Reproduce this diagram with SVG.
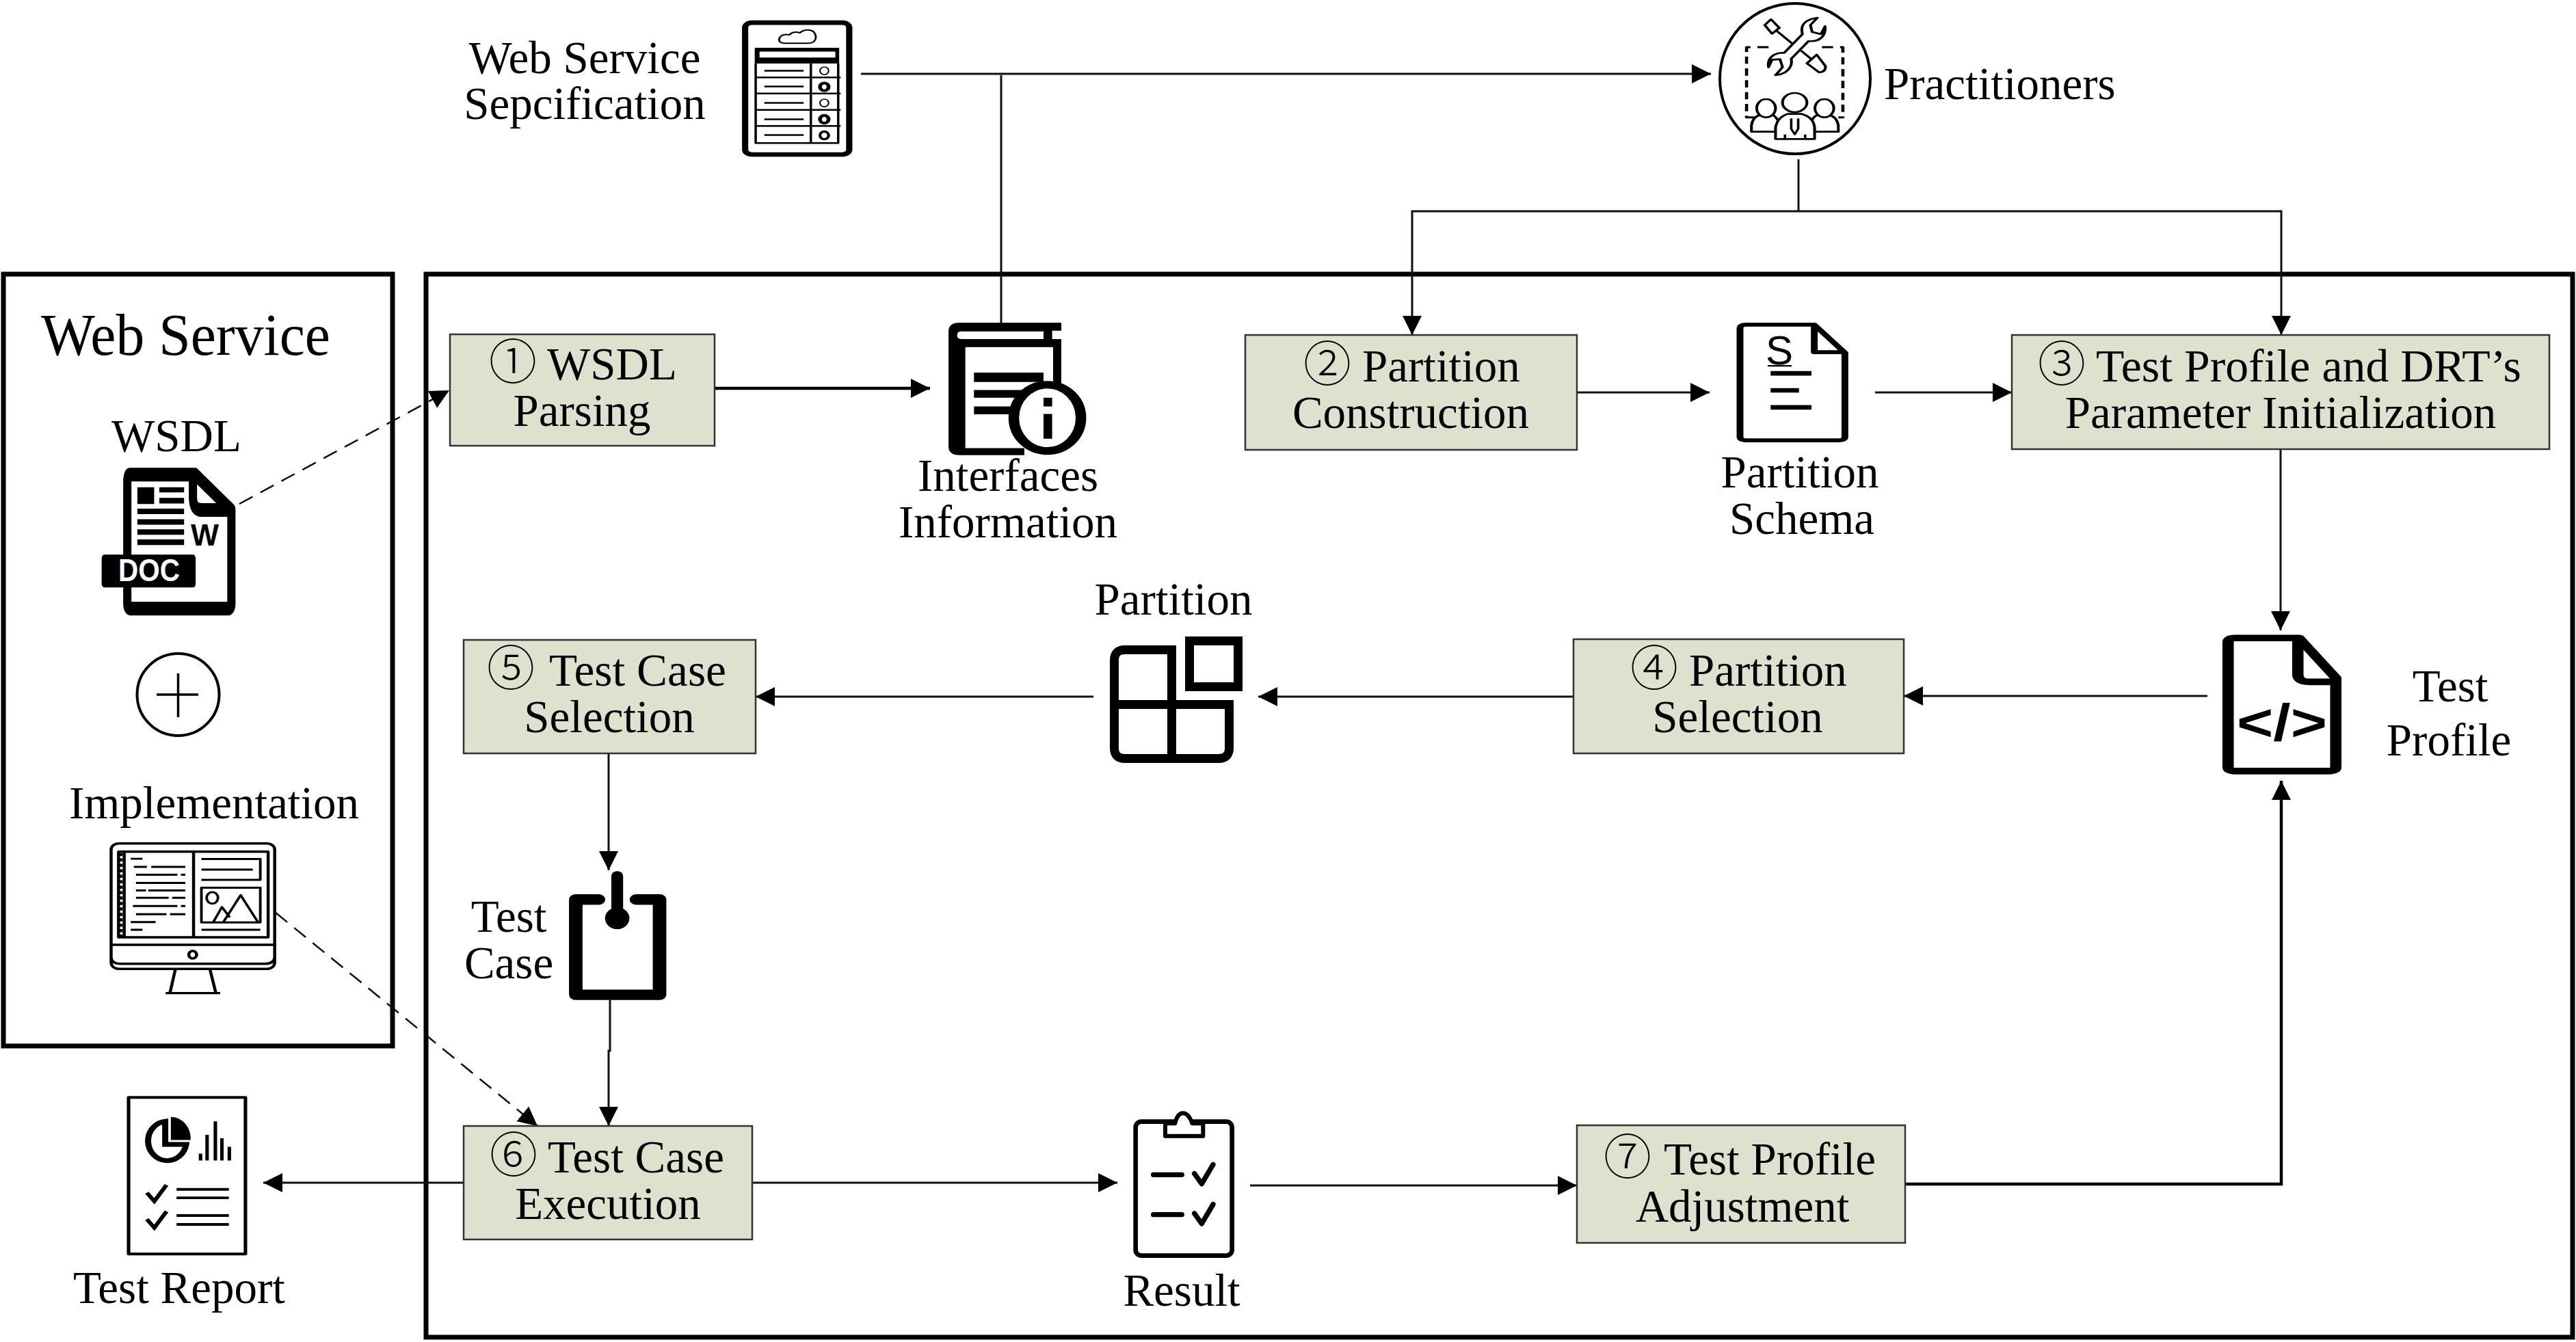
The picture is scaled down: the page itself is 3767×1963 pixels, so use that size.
<svg xmlns="http://www.w3.org/2000/svg" width="3767" height="1963" viewBox="0 0 3767 1963">
<style>
text{font-family:"Liberation Serif","Times New Roman",serif;font-size:67px;fill:#000}
.m{text-anchor:middle}
.d{font-family:"Noto Sans CJK SC","DejaVu Sans",sans-serif;font-size:70px;font-weight:300}
.box{fill:#dde2ce;stroke:#333;stroke-width:2.5}
.frame{fill:none;stroke:#000;stroke-width:7}
.c{fill:none;stroke:#111;stroke-width:3}
.c2{fill:none;stroke:#000;stroke-width:4.5}
.ds{stroke-dasharray:22 13;stroke-width:2.5}
.a{marker-end:url(#ah)}
.k{fill:#000}
.w{fill:#fff}
.s{fill:none;stroke:#000;stroke-linejoin:round}
.sw{fill:#fff;stroke:#000;stroke-linejoin:round}
</style>
<defs>
<marker id="ah" markerUnits="userSpaceOnUse" markerWidth="30" markerHeight="30" refX="28" refY="15" orient="auto"><path d="M0 1L28 15L0 29Z" fill="#000"/></marker>
</defs>
<rect width="3767" height="1963" fill="#fff"/>
<g id="frames">
<rect class="frame" x="5" y="401" width="569" height="1129"/>
<rect class="frame" x="623" y="401" width="3139" height="1555"/>
</g>
<g id="connectors">
<path class="c" d="M1259 108H2502" marker-end="url(#ah)"/>
<path class="c" d="M1464 110V472"/>
<path class="c" d="M2630 233V309"/>
<path class="c a" d="M2630 309H2065V490"/>
<path class="c a" d="M2630 309H3336V490"/>
<path class="c2 a" d="M1045 568H1360"/>
<path class="c a" d="M2306 574H2500"/>
<path class="c a" d="M2742 574H2942"/>
<path class="c a" d="M3335 657V922"/>
<path class="c a" d="M3228 1018H2784"/>
<path class="c a" d="M2301 1019H1840"/>
<path class="c a" d="M1599 1019H1105"/>
<path class="c a" d="M890 1102V1273"/>
<path class="c a" d="M892 1463V1537H890V1647"/>
<path class="c a" d="M678 1730H385"/>
<path class="c a" d="M1100 1730H1634"/>
<path class="c a" d="M1828 1734H2306"/>
<path class="c2 a" d="M2786 1732H3336V1142"/>
<path class="c ds a" d="M350 737L657 571"/>
<path class="c ds a" d="M403 1335L786 1647"/>
</g>
<g id="web-service-label"><text x="60" y="519" style="font-size:86px" textLength="423" lengthAdjust="spacingAndGlyphs">Web Service</text></g>
<g id="wsdl">
<text class="m" x="258" y="660">WSDL</text>
<g transform="scale(.4464 .7396) translate(0 513.8)">
<path class="s" d="M640 425H425Q417 425 417 440V680Q417 690 430 690H745Q758 690 758 680V495Z" style="stroke-width:27"/>
<path class="s" d="M632 425V470Q632 495 660 495H758" style="stroke-width:27"/>
<path class="k" d="M450 450H505V483H450ZM522 450H603V460H522ZM522 471H603V482H522ZM450 492H603V503H450ZM450 513H603V524H450ZM450 533H603V544H450ZM450 553H603V564H450Z"/>
<rect class="k" x="333" y="583" width="308" height="65" rx="8"/>
</g>
<text x="279" y="798" textLength="41" lengthAdjust="spacingAndGlyphs" style="font-family:'Liberation Sans',sans-serif;font-weight:700;font-size:44px">W</text>
<text x="173" y="850" textLength="90" lengthAdjust="spacingAndGlyphs" style="font-family:'Liberation Sans',sans-serif;font-weight:700;font-size:46px;fill:#fff">DOC</text>
</g>
<g id="plus">
<circle cx="260.5" cy="1016" r="60" fill="#fff" stroke="#000" stroke-width="4"/>
<path d="M229 1016H290M260.5 985V1049" stroke="#000" stroke-width="3.5"/>
</g>
<g id="implementation">
<text class="m" x="313" y="1197">Implementation</text>
<g transform="translate(100 1180) scale(.6378 .4975)">
<rect class="s" x="98" y="108" width="375" height="369" rx="18" style="stroke-width:7"/>
<rect class="s" x="115" y="132" width="343" height="252" style="stroke-width:7"/>
<path class="s" style="stroke-width:7" d="M98 406H473M98 445Q100 462 120 462H450Q470 462 473 445M287 132V384M128 132V384"/>
<path class="s" style="stroke-width:7;stroke-dasharray:9 7" d="M121 136V384"/>
<ellipse class="s" cx="285" cy="435" rx="9" ry="11" style="stroke-width:7"/>
<path class="s" style="stroke-width:7" d="M245 480L233 547M325 480L338 547M223 548H348"/>
<path class="s" style="stroke-width:6" d="M143 153H170M150 177H180M190 177H268M155 200H250M258 200H268M155 224H268M155 246H178M183 246H268M155 268H230M238 268H268M148 292H250M258 292H268M155 316H225M233 316H268M143 339H200M143 362H170"/>
<path class="s" style="stroke-width:6" d="M305 154H440V215H305M305 185H423"/>
<rect class="s" x="305" y="238" width="135" height="102" style="stroke-width:6"/>
<ellipse class="s" cx="330" cy="268" rx="13" ry="17" style="stroke-width:6"/>
<path class="s" style="stroke-width:6" d="M332 340L352 295L370 325M355 340L395 260L435 340M305 362H440"/>
</g>
</g>
<g id="web-service-spec">
<text class="m" x="855" y="107">Web Service</text>
<text class="m" x="855" y="174">Sepcification</text>
<g transform="translate(600 0) scale(.7015 .5102)">
<rect class="s" x="698" y="65" width="217" height="378" rx="14" style="stroke-width:13"/>
<path class="s" style="stroke-width:4" d="M780 124Q765 122 770 108Q776 96 790 100Q798 88 812 94Q825 80 840 90Q850 105 842 118Q838 124 828 124Z"/>
<rect class="k" x="718" y="137" width="176" height="45"/>
<rect class="w" x="728" y="148" width="158" height="17"/>
<path class="s" style="stroke-width:5" d="M720 182V410H892V182M720 222H897M720 268H897M720 315H897M720 361H897M835 182V410"/>
<path class="s" style="stroke-width:5" d="M738 203H820M738 248H820M738 295H820M738 342H820M738 387H820"/>
<g class="s"><ellipse cx="863" cy="203" rx="9" ry="11" style="stroke-width:3"/><ellipse cx="863" cy="295" rx="9" ry="11" style="stroke-width:3"/><ellipse cx="863" cy="249" rx="9" ry="11" style="stroke-width:8"/><ellipse cx="863" cy="342" rx="9" ry="11" style="stroke-width:8"/><ellipse cx="863" cy="388" rx="9" ry="11" style="stroke-width:6"/></g>
</g>
</g>
<g id="practitioners">
<text x="2755" y="145">Practitioners</text>
<circle cx="2625" cy="115" r="110" fill="#fff" stroke="#000" stroke-width="4"/>
<g transform="translate(2400 0) scale(.5102 .3333)">
<path class="s" style="stroke-width:9;stroke-dasharray:32 20" d="M365 207H302V515H330M518 207H578V515H565"/>
<path class="s" style="stroke-width:8" d="M372 85L396 122L375 148L354 110ZM388 135L432 190M458 222L490 262M475 278L503 240L528 290Q530 315 510 318Z"/>
<path class="sw" style="stroke-width:8" d="M462 150C455 110 470 85 505 78L485 110L490 140L515 150L527 115C530 160 510 185 480 180L430 258C435 290 420 325 385 330L405 295L398 260L375 262L365 295C360 255 380 230 410 232Z"/>
<path class="sw" style="stroke-width:8" d="M316 578V550Q320 510 345 503H372Q395 510 400 578ZM565 578V550Q560 510 535 503H510Q485 510 480 578Z"/>
<ellipse class="sw" cx="358" cy="475" rx="27" ry="40" style="stroke-width:8"/>
<ellipse class="sw" cx="525" cy="475" rx="27" ry="40" style="stroke-width:8"/>
<path class="sw" style="stroke-width:8" d="M385 610V560Q390 515 420 500H460Q495 515 497 560V610Z"/>
<ellipse class="sw" cx="440" cy="450" rx="35" ry="42" style="stroke-width:8"/>
<path class="s" style="stroke-width:7" d="M430 520V565L440 590L450 565V520M412 590V610M470 590V610"/>
</g>
</g>
<g id="n1"><rect class="box" x="658" y="489" width="387" height="163"/>
<text y="555"><tspan class="d" x="715">①</tspan><tspan x="800">WSDL</tspan></text>
<text class="m" x="851" y="623">Parsing</text></g>
<g id="interfaces">
<g transform="translate(600 0) scale(.7015 .5102)">
<path class="k" d="M1145 925H1357V948H1338V972H1357V1110H1340V995H1157V1285H1280V1305H1145Q1122 1305 1122 1280V950Q1122 925 1145 925ZM1148 950H1320V972H1148Q1140 972 1140 961Q1140 950 1148 950Z" fill-rule="evenodd"/>
<path class="k" d="M1175 1068H1320V1095H1175ZM1175 1118H1290V1140H1175ZM1175 1165H1260V1188H1175Z"/>
<ellipse class="sw" cx="1328" cy="1198" rx="70" ry="95" style="stroke-width:22"/>
<path class="k" d="M1320 1140H1338V1165H1320ZM1320 1187H1338V1258H1320Z"/>
</g>
<text class="m" x="1474" y="718">Interfaces</text>
<text class="m" x="1474" y="786">Information</text></g>
<g id="n2"><rect class="box" x="1821" y="490" width="485" height="168"/>
<text y="558"><tspan class="d" x="1906">②</tspan><tspan x="1992">Partition</tspan></text>
<text class="m" x="2063" y="626">Construction</text></g>
<g id="schema">
<g transform="translate(2450 430) scale(.829 .478)">
<path class="s" style="stroke-width:12" d="M245 94H125Q114 94 114 105V437Q114 448 125 448H288Q299 448 299 437V180ZM245 94V178H299"/>
<path class="s" style="stroke-width:14" d="M168 243H240M168 295H218M168 347H240"/>
<path class="s" style="stroke-width:5" d="M163 220H205"/>
</g>
<text class="m" x="2602" y="533" style="font-family:'Liberation Sans',sans-serif;font-size:60px">S</text>
<text class="m" x="2632" y="713">Partition</text>
<text class="m" x="2635" y="781">Schema</text></g>
<g id="n3"><rect class="box" x="2942" y="490" width="786" height="167"/>
<text y="558"><tspan class="d" x="2980">③</tspan><tspan x="3065" textLength="622" lengthAdjust="spacingAndGlyphs">Test Profile and DRT’s</tspan></text>
<text class="m" x="3335" y="626">Parameter Initialization</text></g>
<g id="test-profile">
<g transform="translate(2450 430) scale(.829 .478)">
<path class="s" style="stroke-width:20" d="M1100 1053H987Q975 1053 975 1065V1448Q975 1460 987 1460H1153Q1165 1460 1165 1448V1175ZM1098 1053V1165Q1098 1187 1120 1187H1165"/>
</g>
<text class="m" x="3337" y="1083" textLength="132" lengthAdjust="spacingAndGlyphs" style="font-family:'Liberation Sans',sans-serif;font-weight:700;font-size:76px">&lt;/&gt;</text>
<text class="m" x="3583" y="1026">Test</text>
<text class="m" x="3581" y="1105">Profile</text></g>
<g id="n4"><rect class="box" x="2301" y="935" width="483" height="167"/>
<text y="1003"><tspan class="d" x="2384">④</tspan><tspan x="2470">Partition</tspan></text>
<text class="m" x="2541" y="1071">Selection</text></g>
<g id="partition">
<text class="m" x="1716" y="899">Partition</text>
<path class="s" style="stroke-width:13;stroke-linejoin:miter" d="M1713.5 950.5H1645Q1629.5 950.5 1629.5 966V1094Q1629.5 1109.5 1645 1109.5H1782Q1797.5 1109.5 1797.5 1094V1030.5H1629.5M1713.5 944V1116"/>
<path class="s" style="stroke-width:13;stroke-linejoin:miter" d="M1739.5 937.5H1810.5V1004.5H1739.5Z"/>
</g>
<g id="n5"><rect class="box" x="678" y="936" width="427" height="166"/>
<text y="1003"><tspan class="d" x="712">⑤</tspan><tspan x="803" textLength="259" lengthAdjust="spacingAndGlyphs">Test Case</tspan></text>
<text class="m" x="891" y="1071">Selection</text></g>
<g id="test-case">
<text class="m" x="744" y="1363">Test</text>
<text class="m" x="744" y="1431">Case</text>
<g transform="translate(100 1180) scale(.638 .4975)">
<path class="s" style="stroke-width:31;stroke-linecap:round" d="M1215 273H1163V553H1355V273H1302"/>
<path class="s" style="stroke-width:27;stroke-linecap:round" d="M1258 203V310"/>
<ellipse class="k" cx="1258" cy="328" rx="28" ry="32"/>
</g></g>
<g id="n6"><rect class="box" x="678" y="1647" width="422" height="166"/>
<text y="1715"><tspan class="d" x="716">⑥</tspan><tspan x="801" textLength="258" lengthAdjust="spacingAndGlyphs">Test Case</tspan></text>
<text class="m" x="889" y="1783">Execution</text></g>
<g id="test-report">
<g transform="translate(100 1180) scale(.6378 .4975)">
<rect class="s" x="138" y="855" width="268" height="460" style="stroke-width:8"/>
<path class="s" style="stroke-width:14;stroke-linejoin:miter" d="M222 925A44 58 0 1 0 270 993H222Z"/>
<path class="k" d="M235 912A46 62 0 0 1 280 980H235Z"/>
<path class="s" style="stroke-width:8" d="M303 1040V1020M318 1040V965M337 1040V925M352 1040V975M369 1040V1000"/>
<path class="s" style="stroke-width:10;stroke-linejoin:miter" d="M180 1135L197 1160L225 1112M180 1213L197 1238L225 1190"/>
<path class="s" style="stroke-width:8" d="M248 1125H368M248 1150H368M248 1202H368M248 1228H368"/>
</g>
<text class="m" x="262" y="1906">Test Report</text></g>
<g id="result">
<g transform="translate(1550 1580) scale(.3333)">
<rect class="s" x="332" y="182" width="423" height="588" rx="25" style="stroke-width:20"/>
<path class="sw" style="stroke-width:18" d="M462 190H505Q515 145 540 145Q565 145 580 190H628V245H462Z"/>
<path class="s" style="stroke-width:22;stroke-linecap:round" d="M410 415H535M410 590H535M590 410L622 455L672 370M590 585L622 630L672 545"/>
</g>
<text class="m" x="1728" y="1910">Result</text></g>
<g id="n7"><rect class="box" x="2306" y="1646" width="480" height="172"/>
<text y="1718"><tspan class="d" x="2345">⑦</tspan><tspan x="2433" textLength="310" lengthAdjust="spacingAndGlyphs">Test Profile</tspan></text>
<text class="m" x="2548" y="1787">Adjustment</text></g>
</svg>
